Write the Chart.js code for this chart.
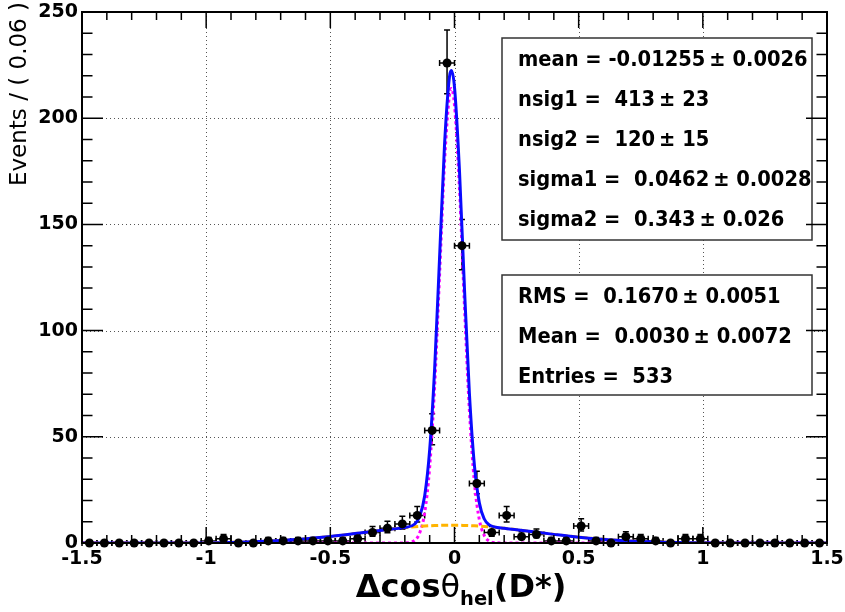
<!DOCTYPE html>
<html>
<head>
<meta charset="utf-8">
<script src="https://cdn.jsdelivr.net/npm/chart.js@4.4.1/dist/chart.umd.min.js"></script>
<style>
  html, body { margin: 0; padding: 0; background: #fff; }
  canvas { display: block; }
</style>
</head>
<body>
<canvas id="chart" width="845" height="612"></canvas>
<script>
// histogram bins (width 0.06)
const binWidth = 0.06;
const binCenters = [-1.47, -1.41, -1.35, -1.29, -1.23, -1.17, -1.11, -1.05, -0.99, -0.93,
  -0.87, -0.81, -0.75, -0.69, -0.63, -0.57, -0.51, -0.45, -0.39, -0.33,
  -0.27, -0.21, -0.15, -0.09, -0.03, 0.03, 0.09, 0.15, 0.21, 0.27,
  0.33, 0.39, 0.45, 0.51, 0.57, 0.63, 0.69, 0.75, 0.81, 0.87,
  0.93, 0.99, 1.05, 1.11, 1.17, 1.23, 1.29, 1.35, 1.41, 1.47];
const counts = [0, 0, 0, 0, 0, 0, 0, 0, 1, 2,
  0, 0, 1, 1, 1, 1, 1, 1, 2, 5,
  7, 9, 13, 53, 226, 140, 28, 5, 13, 3,
  4, 1, 1, 8, 1, 0, 3, 2, 1, 0,
  2, 2, 0, 0, 0, 0, 0, 0, 0, 0];

// fit curves
const fitX = [-1.5, -1.2, -0.9, -0.7, -0.5, -0.4, -0.3, -0.25, -0.2, -0.16, -0.14, -0.12,
  -0.1, -0.08, -0.06, -0.04, -0.02, -0.0126, 0, 0.02, 0.04, 0.06, 0.08, 0.1,
  0.12, 0.14, 0.16, 0.2, 0.25, 0.3, 0.4, 0.5, 0.7, 0.9, 1.2, 1.5];
const fitTotal = [0, 0.02, 0.29, 1.12, 3.05, 4.42, 5.89, 6.59, 7.27, 8.93, 12.61, 22.27,
  43.8, 82.0, 134.7, 187.8, 219.7, 222.4, 214.6, 175.3, 120.2, 70.5, 36.8, 18.9,
  11.3, 8.5, 7.6, 6.91, 6.24, 5.53, 4.06, 2.74, 0.97, 0.24, 0.02, 0];
const fitNarrow = [0, 0, 0, 0, 0, 0, 0, 0, 0.06, 1.3, 4.8, 14.3,
  35.7, 73.8, 126.4, 179.5, 211.3, 214.0, 206.2, 166.9, 111.9, 62.3, 28.7, 11.0,
  3.5, 0.9, 0.2, 0, 0, 0, 0, 0, 0, 0, 0, 0];
const fitWide = [0, 0.02, 0.29, 1.12, 3.05, 4.42, 5.89, 6.59, 7.21, 7.63, 7.81, 7.97,
  8.10, 8.21, 8.29, 8.34, 8.37, 8.37, 8.37, 8.35, 8.27, 8.18, 8.07, 7.93,
  7.77, 7.58, 7.37, 6.91, 6.24, 5.53, 4.06, 2.74, 0.97, 0.24, 0.02, 0];

const xTicks = [-1.5, -1, -0.5, 0, 0.5, 1, 1.5];
const yTicks = [0, 50, 100, 150, 200, 250];

const fitParams = [
  'mean = -0.01255\u2009± 0.0026',
  'nsig1 =  413\u2009± 23',
  'nsig2 =  120\u2009± 15',
  'sigma1 =  0.0462\u2009± 0.0028',
  'sigma2 =  0.343\u2009± 0.026'
];
const histStats = [
  'RMS =  0.1670\u2009± 0.0051',
  'Mean =  0.0030\u2009± 0.0072',
  'Entries =  533'
];

const FONT = '"DejaVu Sans", "Liberation Sans", sans-serif';

function xy(xs, ys) {
  return xs.map((v, i) => ({ x: v, y: ys[i] }));
}

// drop the label overhang so the frame lands where ROOT put it
function noOverhang(s) {
  s.paddingTop = 0; s.paddingBottom = 0; s.paddingLeft = 0; s.paddingRight = 0;
}

// ROOT-like frame: dotted grid, error bars, inward ticks, stat boxes, titles
const rootFrame = {
  id: 'rootFrame',
  beforeDatasetsDraw(chart) {
    const { ctx, chartArea: a, scales: { x, y } } = chart;
    ctx.save();
    ctx.strokeStyle = '#555';
    ctx.lineWidth = 1;
    ctx.setLineDash([1, 3]);
    xTicks.slice(1, -1).forEach(v => {
      const px = Math.round(x.getPixelForValue(v)) + 0.5;
      ctx.beginPath(); ctx.moveTo(px, a.top); ctx.lineTo(px, a.bottom); ctx.stroke();
    });
    yTicks.slice(1, -1).forEach(v => {
      const py = Math.round(y.getPixelForValue(v)) + 0.5;
      ctx.beginPath(); ctx.moveTo(a.left, py); ctx.lineTo(a.right, py); ctx.stroke();
    });
    ctx.setLineDash([]);

    // poisson-like error bars
    ctx.strokeStyle = '#000';
    ctx.lineWidth = 1.5;
    binCenters.forEach((c, i) => {
      const n = counts[i];
      const hi = Math.sqrt(n + 0.25) + 0.5;
      const lo = n > 0 ? Math.sqrt(n + 0.25) - 0.5 : 0;
      const px = x.getPixelForValue(c), py = y.getPixelForValue(n);
      const pl = x.getPixelForValue(c - binWidth / 2), pr = x.getPixelForValue(c + binWidth / 2);
      const pt = y.getPixelForValue(n + hi), pb = y.getPixelForValue(n - lo);
      ctx.beginPath();
      ctx.moveTo(pl, py); ctx.lineTo(pr, py);
      ctx.moveTo(pl, py - 3); ctx.lineTo(pl, py + 3);
      ctx.moveTo(pr, py - 3); ctx.lineTo(pr, py + 3);
      ctx.moveTo(px, pt); ctx.lineTo(px, pb);
      ctx.moveTo(px - 3, pt); ctx.lineTo(px + 3, pt);
      if (lo > 0) { ctx.moveTo(px - 3, pb); ctx.lineTo(px + 3, pb); }
      ctx.stroke();
    });
    ctx.restore();
  },
  afterDatasetsDraw(chart) {
    const { ctx, chartArea: a, scales: { x, y } } = chart;
    ctx.save();

    // stat boxes
    const drawBox = (top, bottom, lines, firstCenter) => {
      ctx.fillStyle = '#fff';
      ctx.fillRect(502, top, 310, bottom - top);
      ctx.strokeStyle = '#333';
      ctx.lineWidth = 1.5;
      ctx.strokeRect(502, top, 310, bottom - top);
      ctx.fillStyle = '#000';
      ctx.font = 'bold 19.5px ' + FONT;
      ctx.textAlign = 'left';
      ctx.textBaseline = 'alphabetic';
      lines.forEach((t, i) => {
        ctx.save();
        ctx.translate(518, firstCenter + i * 40 + 7.5);
        ctx.scale(1, 1.1);
        ctx.fillText(t, 0, 0);
        ctx.restore();
      });
    };
    drawBox(38, 240, fitParams, 58);
    drawBox(275, 395, histStats, 295);

    // frame
    ctx.strokeStyle = '#000';
    ctx.lineWidth = 2;
    ctx.strokeRect(a.left, a.top, a.right - a.left, a.bottom - a.top);

    // inward ticks
    ctx.lineWidth = 1.5;
    ctx.beginPath();
    for (let k = -15; k <= 15; k++) {
      const px = x.getPixelForValue(k / 10);
      const len = k % 5 === 0 ? 16 : 8;
      ctx.moveTo(px, a.bottom); ctx.lineTo(px, a.bottom - len);
      ctx.moveTo(px, a.top); ctx.lineTo(px, a.top + len);
    }
    for (let k = 0; k <= 25; k++) {
      const py = y.getPixelForValue(k * 10);
      const len = k % 5 === 0 ? 21 : 10.5;
      ctx.moveTo(a.left, py); ctx.lineTo(a.left + len, py);
      ctx.moveTo(a.right, py); ctx.lineTo(a.right - len, py);
    }
    ctx.stroke();

    // y title
    ctx.save();
    ctx.translate(20, 2);
    ctx.rotate(-Math.PI / 2);
    ctx.font = '23px ' + FONT;
    ctx.textAlign = 'right';
    ctx.textBaseline = 'middle';
    ctx.fillText('Events / ( 0.06 )', 0, 0);
    ctx.restore();

    // x title: Δcos θ_hel (D*)
    const parts = [
      { t: 'Δcos', f: 'bold 32px ' + FONT, dy: 0 },
      { t: 'θ', f: '32px ' + FONT, dy: 0 },
      { t: 'hel', f: 'bold 19.5px ' + FONT, dy: 8 },
      { t: '(D*)', f: 'bold 32px ' + FONT, dy: 0 }
    ];
    let total = 0;
    parts.forEach(p => { ctx.font = p.f; p.w = ctx.measureText(p.t).width; total += p.w; });
    let cx = 461 - total / 2;
    ctx.textAlign = 'left';
    ctx.textBaseline = 'alphabetic';
    parts.forEach(p => { ctx.font = p.f; ctx.fillText(p.t, cx, 597 + p.dy); cx += p.w; });
    ctx.restore();
  }
};

const tickFont = { family: FONT, weight: 'bold', size: 19 };

new Chart(document.getElementById('chart'), {
  type: 'scatter',
  data: {
    datasets: [
      {
        label: 'data',
        data: xy(binCenters, counts),
        pointRadius: 4.5,
        pointBackgroundColor: '#000',
        pointBorderColor: '#000',
        pointBorderWidth: 0,
        clip: false,
        order: 0
      },
      {
        type: 'line',
        label: 'total fit',
        data: xy(fitX, fitTotal),
        borderColor: '#0a0aff',
        borderWidth: 3,
        pointRadius: 0,
        fill: false,
        cubicInterpolationMode: 'monotone',
        order: 1
      },
      {
        type: 'line',
        label: 'wide gaussian',
        data: xy(fitX, fitWide),
        borderColor: '#ffb400',
        borderWidth: 3,
        borderDash: [7, 3],
        pointRadius: 0,
        fill: false,
        cubicInterpolationMode: 'monotone',
        order: 2
      },
      {
        type: 'line',
        label: 'narrow gaussian',
        data: xy(fitX, fitNarrow),
        borderColor: '#ff00ff',
        borderWidth: 3,
        borderDash: [3, 3],
        pointRadius: 0,
        fill: false,
        cubicInterpolationMode: 'monotone',
        order: 3
      }
    ]
  },
  options: {
    responsive: false,
    animation: false,
    devicePixelRatio: 1,
    layout: { padding: { top: 12, right: 18, left: 0, bottom: 0 } },
    plugins: { legend: { display: false }, tooltip: { enabled: false } },
    scales: {
      x: {
        type: 'linear',
        min: -1.5,
        max: 1.5,
        afterBuildTicks: s => { s.ticks = xTicks.map(v => ({ value: v })); },
        afterFit: s => { s.height = 69; noOverhang(s); },
        grid: { display: false, drawTicks: false },
        border: { display: false },
        ticks: {
          autoSkip: false, maxRotation: 0, minRotation: 0, padding: 5,
          color: '#000', font: tickFont,
          callback: v => String(v)
        }
      },
      y: {
        type: 'linear',
        min: 0,
        max: 250,
        afterBuildTicks: s => { s.ticks = yTicks.map(v => ({ value: v })); },
        afterFit: s => { s.width = 82; noOverhang(s); },
        grid: { display: false, drawTicks: false },
        border: { display: false },
        ticks: {
          padding: 4, color: '#000', font: tickFont,
          callback: v => String(v)
        }
      }
    }
  },
  plugins: [rootFrame]
});
</script>
</body>
</html>
